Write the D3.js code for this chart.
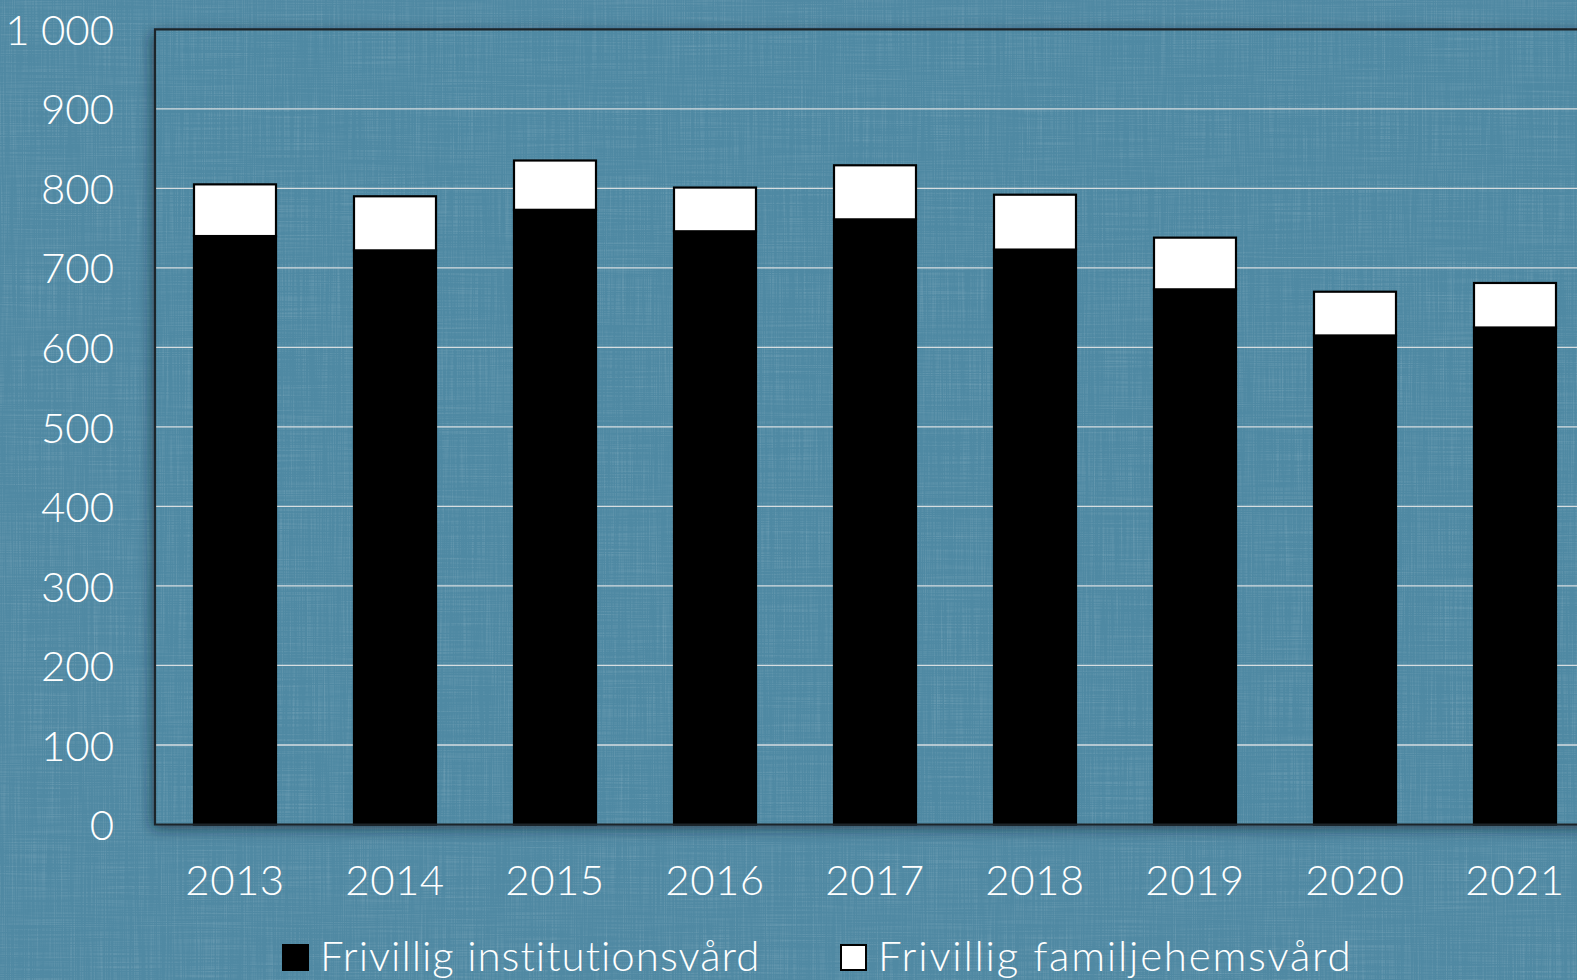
<!DOCTYPE html>
<html><head><meta charset="utf-8">
<script src="https://cdn.jsdelivr.net/npm/d3@7"></script>
<style>
html,body{margin:0;padding:0;background:#5089a3;overflow:hidden;}
svg{display:block;}
</style></head>
<body>
<svg id="chart" width="1577" height="980"></svg>
<script>
const years = ["2013","2014","2015","2016","2017","2018","2019","2020","2021"];
const institution = [740, 722, 773, 746, 761, 723, 673, 615, 625];
const familjehem = [65, 68, 62, 55, 68, 69, 65, 55, 56];
const seriesNames = ["Frivillig institutionsvård", "Frivillig familjehemsvård"];
const seriesColors = ["#000000", "#ffffff"];
const yTicks = [0,100,200,300,400,500,600,700,800,900,1000];
const yTickLabels = ["0","100","200","300","400","500","600","700","800","900","1 000"];

const W = 1577, H = 980;
const m = {left:155, top:29.3, bottom:824.5, right:1595};
const font = "'Lato', 'Open Sans', sans-serif";
const bg = "#5089a3";
const svg = d3.select("#chart");
const defs = svg.append("defs");

// linen-like texture
const tex = defs.append("filter").attr("id","linen").attr("x",0).attr("y",0).attr("width","100%").attr("height","100%");
tex.append("feTurbulence").attr("type","fractalNoise").attr("baseFrequency","0.9 0.012").attr("numOctaves",2).attr("seed",3).attr("result","n1");
tex.append("feTurbulence").attr("type","fractalNoise").attr("baseFrequency","0.012 0.9").attr("numOctaves",2).attr("seed",7).attr("result","n2");
tex.append("feComposite").attr("in","n1").attr("in2","n2").attr("operator","arithmetic").attr("k2",0.5).attr("k3",0.5).attr("result","n");
tex.append("feColorMatrix").attr("in","n").attr("type","matrix")
  .attr("values","0 0 0 0 1  0 0 0 0 1  0 0 0 0 1  1.2 0 0 0 -0.55");

const shadow = defs.append("filter").attr("id","shadow").attr("x","-10%").attr("y","-10%").attr("width","120%").attr("height","120%");
shadow.append("feDropShadow").attr("dx",-3).attr("dy",4).attr("stdDeviation",7).attr("flood-color","#10202a").attr("flood-opacity",0.6);

svg.append("rect").attr("width",W).attr("height",H).attr("fill",bg);
svg.append("rect").attr("width",W).attr("height",H).attr("filter","url(#linen)").attr("opacity",0.35);

const x = d3.scaleBand().domain(years).range([m.left, m.right]).paddingInner(0.4875).paddingOuter(0.24375);
const y = d3.scaleLinear().domain([0,1000]).range([m.bottom, m.top]);

// plot area with shadow
svg.append("rect").attr("x",m.left).attr("y",m.top).attr("width",m.right-m.left).attr("height",m.bottom-m.top)
  .attr("fill",bg).attr("filter","url(#shadow)");
svg.append("rect").attr("x",m.left).attr("y",m.top).attr("width",m.right-m.left).attr("height",m.bottom-m.top)
  .attr("filter","url(#linen)").attr("opacity",0.35);

// gridlines
svg.append("g").selectAll("line").data(yTicks.filter(t=>t>0 && t<1000)).join("line")
  .attr("x1",m.left).attr("x2",m.right).attr("y1",d=>y(d)).attr("y2",d=>y(d))
  .attr("stroke","#d6dde0").attr("stroke-width",1.3);

// bars
const stackData = years.map((yr,i)=>({year:yr, institution:institution[i], familjehem:familjehem[i]}));
const stack = d3.stack().keys(["institution","familjehem"])(stackData);
svg.append("g").selectAll("g").data(stack).join("g")
  .attr("fill",(d,i)=>seriesColors[i])
  .selectAll("rect").data(d=>d).join("rect")
  .attr("x",d=>x(d.data.year)).attr("width",x.bandwidth())
  .attr("y",d=>y(d[1])).attr("height",d=>y(d[0])-y(d[1]))
  .attr("stroke","#000").attr("stroke-width",2.2);

// plot border
svg.append("path").attr("d",`M${m.right},${m.top}H${m.left}V${m.bottom}H${m.right}`)
  .attr("fill","none").attr("stroke","#1c2429").attr("stroke-width",2.2);

// y axis labels
const yAxis = d3.axisLeft(y).tickValues(yTicks).tickFormat((d,i)=>yTickLabels[i]).tickSize(0).tickPadding(41);
const gy = svg.append("g").attr("transform",`translate(${m.left},0)`).call(yAxis);
gy.select(".domain").remove();
gy.selectAll("text").attr("fill","#fff").attr("font-family",font).attr("font-weight",300).attr("font-size",42)
  .attr("dy","0.36em").style("white-space","pre");

// x axis labels
const xAxis = d3.axisBottom(x).tickSize(0).tickPadding(41);
const gx = svg.append("g").attr("transform",`translate(0,${m.bottom})`).call(xAxis);
gx.select(".domain").remove();
gx.selectAll("text").attr("fill","#fff").attr("font-family",font).attr("font-weight",300).attr("font-size",42)
  .attr("letter-spacing",0.5).attr("dy","0.71em");

// legend
const legendX = [283, 841];
const legendSpacing = [1.0, 1.8];
const lg = svg.append("g").selectAll("g").data(seriesNames).join("g")
  .attr("transform",(d,i)=>`translate(${legendX[i]},945)`);
lg.append("rect").attr("width",25).attr("height",25).attr("fill",(d,i)=>seriesColors[i]).attr("stroke","#000").attr("stroke-width",2);
lg.append("text").attr("x",37).attr("y",26).text(d=>d)
  .attr("fill","#fff").attr("font-family",font).attr("font-weight",300).attr("font-size",42)
  .attr("letter-spacing",(d,i)=>legendSpacing[i]);
</script>
</body></html>
